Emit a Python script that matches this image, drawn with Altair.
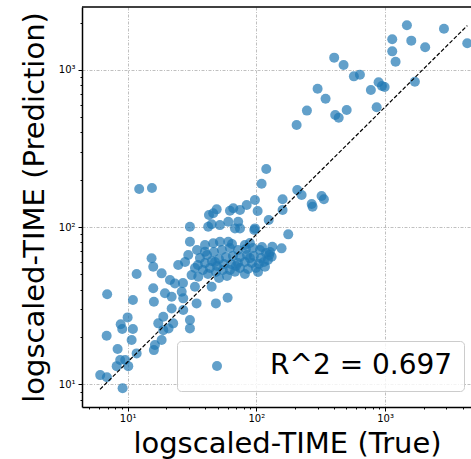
import altair as alt
import pandas as pd

# log10 of the values
log_true = [
    1.090, 1.189, 2.041, 2.077, 2.313, 2.393, 2.476, 2.538, 2.605, 2.678, 2.613, 2.640, 2.702, 2.758, 2.805,
    2.890, 2.935, 2.950, 2.976, 2.997, 3.056, 3.056, 3.082, 3.170, 3.204, 3.312, 3.232, 3.458, 3.639,
    2.318, 2.352, 2.507, 2.525, 2.430, 2.437, 2.204, 2.204, 1.989, 1.925, 2.010, 1.821, 1.795, 1.692, 1.665,
    1.632, 1.873, 1.653, 1.626, 1.782, 1.859, 1.834, 1.873, 1.989, 1.484, 2.096, 2.248, 1.717, 1.717, 1.782,
    1.911, 2.124, 1.484, 1.471, 1.601, 1.665, 2.119, 2.067, 1.834, 1.497, 1.984, 2.196, 2.100,
    1.562, 1.617, 1.671, 1.733, 1.795, 1.857, 1.919, 1.974, 2.028, 2.075,
    1.546, 1.601, 1.655, 1.710, 1.764, 1.818, 1.873, 1.927, 1.981, 2.036, 2.090,
    1.585, 1.639, 1.694, 1.748, 1.803, 1.857, 1.911, 1.966, 2.020, 2.059,
    1.624, 1.686, 1.740, 1.795, 1.873, 1.935, 1.997, 1.772, 1.710, 1.911,
    1.601, 1.811, 1.950, 2.044, 2.106, 1.539, 1.679, 1.842, 1.950, 2.013,
    1.186, 1.199, 1.070, 1.264, 1.393, 1.549, 1.329, 1.368, 1.199, 1.204, 1.290, 1.342, 1.420, 1.432, 1.536,
    1.653, 1.686, 1.777, 1.342, 1.432, 1.277, 1.238, 1.354, 1.484, 1.484, 1.277, 1.264, 1.212, 1.204, 1.523,
    1.446, 1.523, 1.430, 1.318,
    0.841, 1.041, 1.000, 0.946, 0.958, 1.041, 1.031, 0.837, 0.922, 1.070, 0.942, 0.981, 0.915, 1.005, 0.787,
    0.839, 0.961,
]
log_pred = [
    2.242, 2.249, 2.276, 2.370, 2.650, 2.741, 2.880, 2.817, 3.078, 3.031, 2.713, 2.696, 2.745, 2.959, 2.969,
    2.872, 2.762, 2.921, 2.898, 2.891, 3.195, 3.118, 3.052, 3.284, 3.186, 3.144, 2.925, 3.262, 3.169,
    2.236, 2.204, 2.198, 2.177, 2.147, 2.130, 2.177, 2.109, 2.173, 2.141, 2.103, 2.120, 2.104, 2.113, 2.088,
    2.077, 2.109, 2.018, 2.003, 2.034, 2.034, 1.992, 1.992, 1.992, 2.003, 2.045, 1.954, 2.013, 1.907, 1.907,
    1.886, 1.875, 1.907, 1.823, 1.844, 1.897, 1.812, 1.748, 1.716, 1.695, 1.982, 1.865, 1.823,
    1.803, 1.823, 1.842, 1.855, 1.867, 1.855, 1.861, 1.867, 1.855, 1.836,
    1.759, 1.772, 1.784, 1.797, 1.810, 1.816, 1.810, 1.823, 1.816, 1.803, 1.791,
    1.727, 1.740, 1.753, 1.765, 1.765, 1.772, 1.778, 1.772, 1.765, 1.778,
    1.702, 1.715, 1.727, 1.727, 1.740, 1.734, 1.740, 1.689, 1.676, 1.702,
    1.886, 1.893, 1.899, 1.874, 1.842, 1.855, 1.778, 1.753, 1.803, 1.715,
    1.802, 1.748, 1.702, 1.706, 1.759, 1.684, 1.664, 1.642, 1.611, 1.525, 1.579, 1.557, 1.589, 1.547, 1.515,
    1.621, 1.515, 1.551, 1.483, 1.473, 1.430, 1.388, 1.388, 1.409, 1.356, 1.345, 1.282, 1.250, 1.218, 1.621,
    1.778, 1.740, 1.644, 1.356,
    1.573, 1.537, 1.426, 1.382, 1.352, 1.352, 1.282, 1.309, 1.225, 1.197, 1.155, 1.155, 1.116, 1.116, 1.059,
    1.045, 0.975,
]

fit_true = [6.1, 4360.0]
fit_pred = [9.3, 1914.0]
legend_label = "R^2 = 0.697"

x_ticks = [5, 6, 7, 8, 9, 10, 20, 30, 40, 50, 60, 70, 80, 90, 100, 200, 300, 400, 500, 600, 700, 800, 900,
           1000, 2000, 3000, 4000]
y_ticks = [8, 9, 10, 20, 30, 40, 50, 60, 70, 80, 90, 100, 200, 300, 400, 500, 600, 700, 800, 900, 1000, 2000]
x_domain = [4.42, 4656]
y_domain = [7.18, 2512]

df = pd.DataFrame({
    "true": [10 ** v for v in log_true],
    "pred": [10 ** v for v in log_pred],
    "label": legend_label,
})
fit_df = pd.DataFrame({"true": fit_true, "pred": fit_pred})

major = "datum.value == 10 || datum.value == 100 || datum.value == 1000"
label_expr = "datum.value == 10 ? '10\u00b9' : datum.value == 100 ? '10\u00b2' : datum.value == 1000 ? '10\u00b3' : ''"

x_axis = alt.Axis(
    values=x_ticks, labelExpr=label_expr, title="logscaled-TIME (True)",
    tickSize={"condition": {"test": major, "value": 4}, "value": 2},
    gridOpacity={"condition": {"test": major, "value": 1}, "value": 0},
    titleX=205, titleY=45, titleBaseline="alphabetic", titleAlign="center",
    labelPadding=2, labelFlush=False, labelOverlap=False,
)
y_axis = alt.Axis(
    values=y_ticks, labelExpr=label_expr, title="logscaled-TIME (Prediction)",
    tickSize={"condition": {"test": major, "value": 4}, "value": 2},
    gridOpacity={"condition": {"test": major, "value": 1}, "value": 0},
    titleX=-39, titleY=200, titleAngle=270, titleBaseline="alphabetic", titleAlign="center",
    labelPadding=3, labelFlush=False, labelOverlap=False,
)

X = alt.X("true:Q", scale=alt.Scale(type="log", domain=x_domain, nice=False), axis=x_axis)
Y = alt.Y("pred:Q", scale=alt.Scale(type="log", domain=y_domain, nice=False), axis=y_axis)

points = alt.Chart(df).mark_circle(size=100, opacity=0.7, clip=True).encode(
    x=X, y=Y,
    color=alt.Color(
        "label:N",
        scale=alt.Scale(domain=[legend_label], range=["#1f77b4"]),
        legend=alt.Legend(
            title=None, orient="none", legendX=95, legendY=334, padding=11,
            symbolOffset=15, labelOffset=39, labelFontSize=28, labelFont="DejaVu Sans",
            labelColor="black", labelLimit=500, symbolType="circle", symbolSize=100,
            symbolOpacity=0.7, symbolStrokeWidth=0, fillColor="rgba(255,255,255,0.8)",
            strokeColor="#cccccc", cornerRadius=4,
        ),
    ),
)

fit_line = alt.Chart(fit_df).mark_line(color="black", strokeDash=[4, 2], strokeWidth=1.2, clip=True).encode(
    x=X, y=Y,
)

top_border = alt.Chart(pd.DataFrame({"k": [0]})).mark_rule(color="black", strokeWidth=1.5).encode(
    x=alt.value(0), x2=alt.value(389), y=alt.value(0),
)

chart = alt.layer(points, fit_line, top_border).properties(
    width=389, height=400, autosize="none",
    padding={"left": 82, "top": 7, "right": 0, "bottom": 52},
).configure_view(strokeWidth=0).configure_axis(
    domainColor="black", domainWidth=1.5, tickColor="black", tickWidth=1,
    labelFont="DejaVu Sans", labelFontSize=10, labelColor="black",
    titleFont="DejaVu Sans", titleFontSize=29, titleFontWeight="normal", titleColor="black",
    gridColor="#b0b0b0", gridDash=[3, 1.5, 1, 1.5], gridWidth=0.8,
)

chart.save("out.html", embed_options={"renderer": "svg", "actions": False})
